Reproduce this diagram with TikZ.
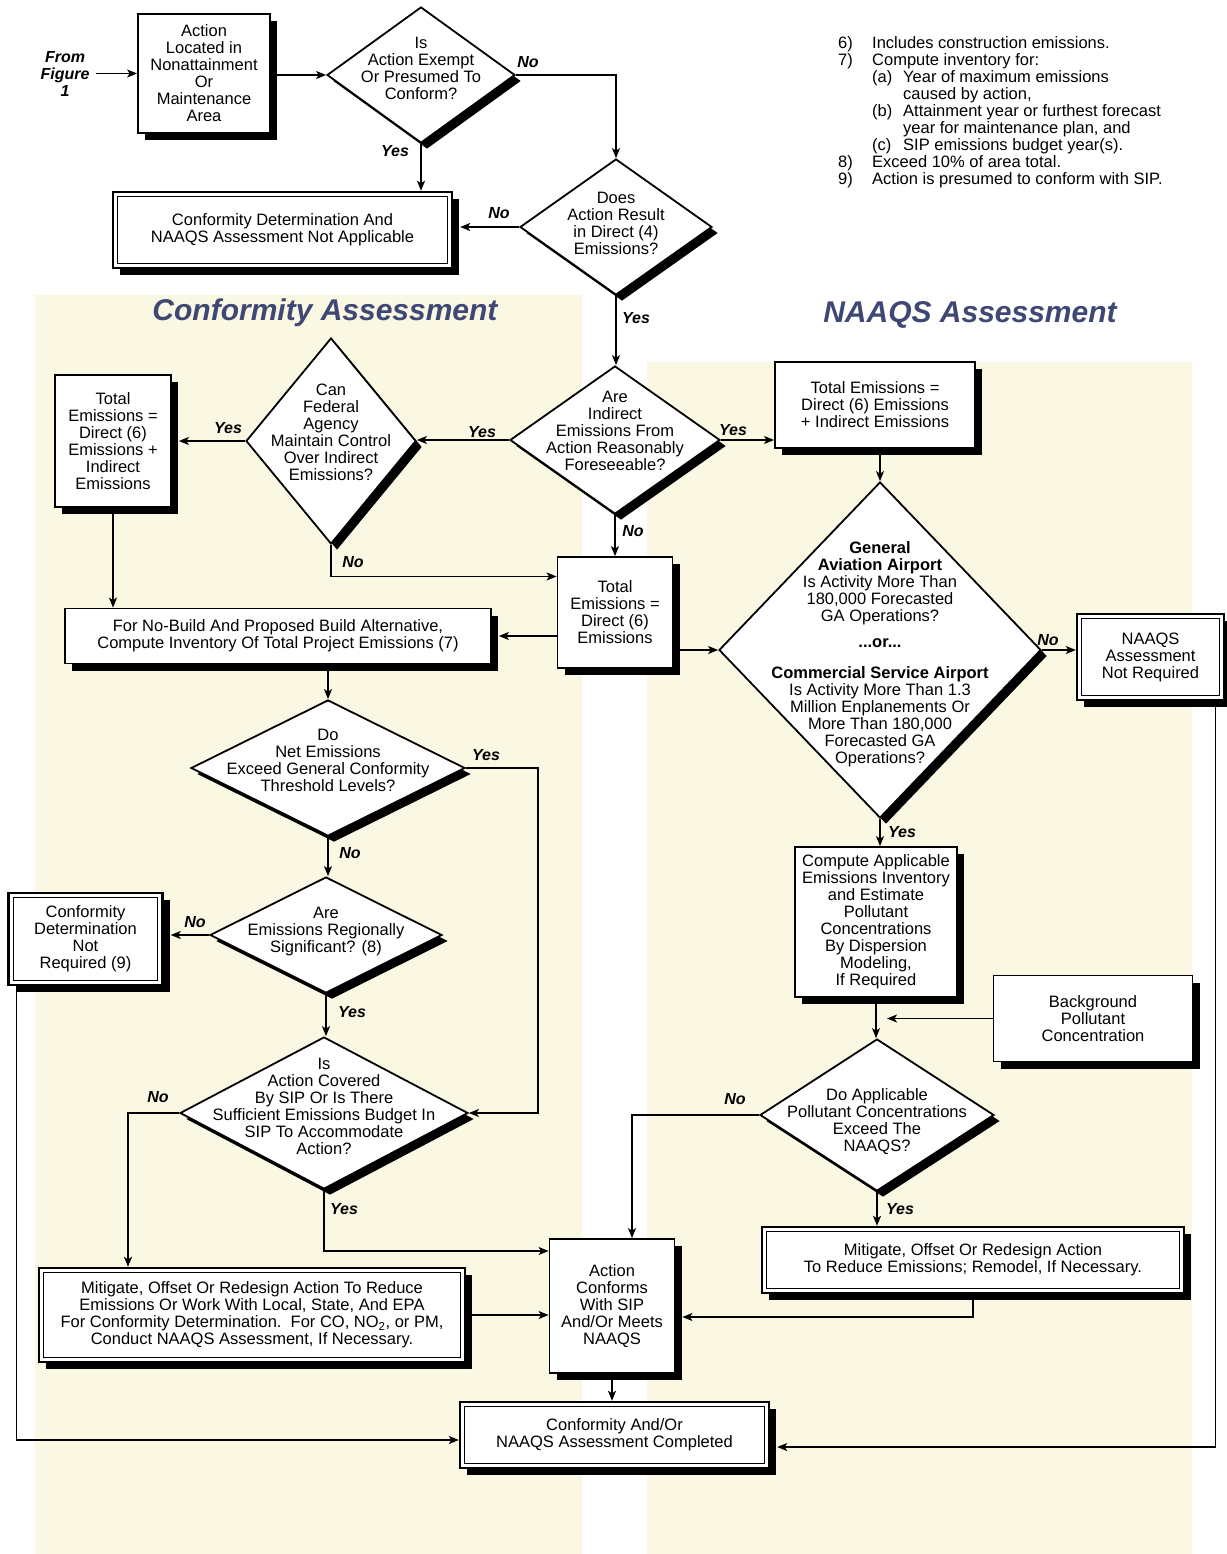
\documentclass[tikz,border=0pt]{standalone}
\usepackage{fontspec}
\setmainfont{Liberation Sans}
\usetikzlibrary{shapes.geometric,shadows,calc,arrows.meta}
\definecolor{panel}{RGB}{250,247,226}
\definecolor{ttl}{RGB}{63,72,116}
\newcommand\dtxt[2][0pt]{\makebox[0pt]{\smash{\raisebox{#1}{\begin{tabular}{@{}c@{}}#2\end{tabular}}}}}
\newcommand\innerframe[1]{\draw[line width=1.3pt] ([xshift=6pt,yshift=-6pt]#1.north west) rectangle ([xshift=-6pt,yshift=6pt]#1.south east);}
\begin{document}
\begin{tikzpicture}[x=1pt,y=-1pt,
  every node/.style={font=\fontsize{16.5}{17}\selectfont},
  box/.style={draw,line width=1.8pt,fill=white,align=center,inner sep=0pt,
    drop shadow={shadow xshift=7pt,shadow yshift=-7pt,fill=black,opacity=1}},
  dbox/.style={box,line width=2.4pt},
  dia/.style={diamond,draw,line width=1.8pt,fill=white,inner sep=0pt,
    drop shadow={shadow xshift=6pt,shadow yshift=-6pt,fill=black,opacity=1}},
  arr/.style={line width=1.4pt,-{Stealth[length=10pt,width=8pt,inset=2.5pt]}},
  toshadow/.style={shorten >=7pt},
  lbl/.style={font=\fontsize{16}{17}\selectfont\bfseries\itshape,inner sep=0pt},
  ttlsty/.style={font=\fontsize{30}{32}\selectfont\bfseries\itshape,text=ttl,inner sep=0pt}
]
\useasboundingbox (0,0) rectangle (1226,1554);
\fill[white] (0,0) rectangle (1226,1554);
% panels
\fill[panel] (35,295) rectangle (582,1554);
\fill[panel] (647,362) rectangle (1192,1554);
\node[ttlsty] (t1) at (325,313) {Conformity Assessment};
\node[ttlsty] (t2) at (970,315) {NAAQS Assessment};

% notes
\node[anchor=north west,inner sep=0pt] (notes) at (838,36) {\begin{tabular}{@{}p{34pt}@{}p{31pt}@{}l@{}}
6) & \multicolumn{2}{@{}l@{}}{Includes construction emissions.}\\
7) & \multicolumn{2}{@{}l@{}}{Compute inventory for:}\\
 & (a) & Year of maximum emissions\\
 & & caused by action,\\
 & (b) & Attainment year or furthest forecast\\
 & & year for maintenance plan, and\\
 & (c) & SIP emissions budget year(s).\\
8) & \multicolumn{2}{@{}l@{}}{Exceed 10\% of area total.}\\
9) & \multicolumn{2}{@{}l@{}}{Action is presumed to conform with SIP.}
\end{tabular}};

% top part
\node[lbl,align=center] (ff) at (65,73.5) {From\\Figure\\1};
\node[box,minimum width=132pt,minimum height=119pt] (A) at (204,73.5) {Action\\Located in\\Nonattainment\\Or\\Maintenance\\Area};
\node[dia,minimum width=188pt,minimum height=136pt] (D1) at (421,75) {\dtxt{Is\\Action Exempt\\Or Presumed To\\Conform?}};
\node[dbox,minimum width=339pt,minimum height=76pt] (B) at (282.5,230) {Conformity Determination And\\NAAQS Assessment Not Applicable};
\node[dia,minimum width=192pt,minimum height=136pt] (D2) at (616,227) {\dtxt[-2.7pt]{Does\\Action Result\\in Direct (4)\\Emissions?}};
\node[dia,minimum width=210pt,minimum height=148pt] (D3) at (615,440) {\dtxt[2.3pt]{Are\\Indirect\\Emissions From\\Action Reasonably\\Foreseeable?}};

% conformity column
\node[dia,minimum width=170pt,minimum height=206pt] (D4) at (331,441) {\dtxt[2.3pt]{Can\\Federal\\Agency\\Maintain Control\\Over Indirect\\Emissions?}};
\node[box,minimum width=116pt,minimum height=132pt] (TE1) at (113,441) {Total\\Emissions =\\Direct (6)\\Emissions +\\Indirect\\Emissions};
\node[box,minimum width=115pt,minimum height=111pt] (TD) at (615,612.5) {Total\\Emissions =\\Direct (6)\\Emissions};
\node[box,minimum width=426pt,minimum height=55pt] (F) at (278,636) {For No-Build And Proposed Build Alternative,\\Compute Inventory Of Total Project Emissions (7)};
\node[dia,minimum width=274pt,minimum height=136pt] (D5) at (328,768) {\dtxt[1.3pt]{Do\\Net Emissions\\Exceed General Conformity\\Threshold Levels?}};
\node[dia,minimum width=232pt,minimum height=116pt] (D6) at (326,935) {\dtxt[-1.7pt]{Are\\Emissions Regionally\\Significant? (8)}};
\node[dbox,minimum width=154pt,minimum height=92pt] (CDNR) at (85.5,939) {Conformity\\Determination\\Not\\Required (9)};
\node[dia,minimum width=288pt,minimum height=152pt] (D7) at (324,1113) {\dtxt{Is\\Action Covered\\By SIP Or Is There\\Sufficient Emissions Budget In\\SIP To Accommodate\\Action?}};
\node[dbox,minimum width=426pt,minimum height=94pt] (MIT1) at (252,1315) {Mitigate, Offset Or Redesign Action To Reduce\\Emissions Or Work With Local, State, And EPA\\For Conformity Determination.\ \ For CO, NO\textsubscript{2}, or PM,\\Conduct NAAQS Assessment, If Necessary.};
\node[box,minimum width=125pt,minimum height=134pt] (ACT) at (612,1306) {Action\\Conforms\\With SIP\\And/Or Meets\\NAAQS};
\node[dbox,minimum width=309pt,minimum height=66pt] (FIN) at (614.5,1435) {Conformity And/Or\\NAAQS Assessment Completed};

% NAAQS column
\node[box,minimum width=200pt,minimum height=86pt] (NT) at (875,405) {Total Emissions =\\Direct (6) Emissions\\+ Indirect Emissions};
\node[dia,minimum width=322pt,minimum height=336pt] (DB) at (880,650) {\dtxt[-9.2pt]{\textbf{General}\\\textbf{Aviation Airport}\\Is Activity More Than\\180,000 Forecasted\\GA Operations?\\[9pt]\textbf{...or...}\\[14pt]\textbf{Commercial Service Airport}\\Is Activity More Than 1.3\\Million Enplanements Or\\More Than 180,000\\Forecasted GA\\Operations?}};
\node[dbox,minimum width=147pt,minimum height=86pt] (NNR) at (1150.5,657) {NAAQS\\Assessment\\Not Required};
\node[box,minimum width=162pt,minimum height=150pt] (CA) at (876,922) {Compute Applicable\\Emissions Inventory\\and Estimate\\Pollutant\\Concentrations\\By Dispersion\\Modeling,\\If Required};
\node[box,minimum width=199pt,minimum height=86pt] (BG) at (1093,1018.5) {Background\\Pollutant\\Concentration};
\node[dia,minimum width=234pt,minimum height=152pt] (D8) at (877,1115) {\dtxt[-11.7pt]{Do Applicable\\Pollutant Concentrations\\Exceed The\\NAAQS?}};
\node[dbox,minimum width=422pt,minimum height=66pt] (MIT2) at (973,1260) {Mitigate, Offset Or Redesign Action\\To Reduce Emissions; Remodel, If Necessary.};

% inner frames of double boxes
\innerframe{B}
\innerframe{CDNR}
\innerframe{MIT1}
\innerframe{FIN}
\innerframe{NNR}
\innerframe{MIT2}

% connectors
\draw[arr,shorten <=6pt] (ff.east) -- (ff.east -| A.west);
\draw[arr] (A.east |- D1.west) -- (D1.west);
\draw[arr] (D1.east) -| (D2.north);
\draw[arr] (D1.south) -- (D1.south |- B.north);
\draw[arr,toshadow] (D2.west) -- (D2.west -| B.east);
\draw[arr] (D2.south) -- (D2.south |- D3.north);
\draw[arr] (D3.west) -- (D3.west -| D4.east);
\draw[arr] (D3.east) -- (D3.east -| NT.west);
\draw[arr] (D3.south) -- (D3.south |- TD.north);
\draw[arr,toshadow] (D4.west) -- (D4.west -| TE1.east);
\draw[arr] (D4.south) |- ([yshift=36pt]TD.west);
\draw[arr] (TE1.south) -- (TE1.south |- F.north);
\draw[arr,toshadow] (TD.west |- F.east) -- (F.east);
\draw[arr] (TD.east |- DB.west) -- (DB.west);
\draw[arr] (NT.south -| DB.north) -- (DB.north);
\draw[arr] (F.south -| D5.north) -- (D5.north);
\coordinate (yr) at (538,768);
\draw[arr] (D5.east) -- (yr) |- (D7.east);
\draw[arr] (D5.south) -- (D5.south |- D6.north);
\draw[arr,toshadow] (D6.west) -- (D6.west -| CDNR.east);
\draw[arr] (D6.south) -- (D6.south |- D7.north);
\draw[arr] (D7.west) -| ([xshift=-124pt]MIT1.north);
\draw[arr] (D7.south) |- ([yshift=55pt]ACT.west);
\draw[arr] (MIT1.east) -- (MIT1.east -| ACT.west);
\draw[arr,toshadow] (MIT2.south) |- ([yshift=-11pt]ACT.east);
\draw[arr] (ACT.south) -- (ACT.south |- FIN.north);
\draw[arr] ([xshift=9pt]CDNR.south west) |- ([yshift=-5pt]FIN.west);
\draw[arr,toshadow] ([xshift=-10pt]NNR.south east) |- ([yshift=-12pt]FIN.east);
\draw[arr] (DB.east) -- (DB.east -| NNR.west);
\draw[arr] (DB.south) -- (DB.south |- CA.north);
\draw[arr] (CA.south) -- (CA.south |- D8.north);
\draw[arr] (BG.west) -- ($(BG.west -| D8.north)+(10,0)$);
\draw[arr] (D8.west) -| ([xshift=20pt]ACT.north);
\draw[arr] (D8.south) -- (D8.south |- MIT2.north);

% labels
\node[lbl] (l1) at (528,62) {No};
\node[lbl] (l2) at (395,151) {Yes};
\node[lbl] (l3) at (499,213) {No};
\node[lbl] (l4) at (636,318) {Yes};
\node[lbl] (l5) at (482,432) {Yes};
\node[lbl] (l6) at (733,430) {Yes};
\node[lbl] (l7) at (633,531) {No};
\node[lbl] (l8) at (228,428) {Yes};
\node[lbl] (l9) at (353,562) {No};
\node[lbl] (l10) at (486,755) {Yes};
\node[lbl] (l11) at (350,853) {No};
\node[lbl] (l12) at (195,922) {No};
\node[lbl] (l13) at (352,1012) {Yes};
\node[lbl] (l14) at (158,1097) {No};
\node[lbl] (l15) at (344,1209) {Yes};
\node[lbl] (l16) at (1048,640) {No};
\node[lbl] (l17) at (902,832) {Yes};
\node[lbl] (l18) at (735,1099) {No};
\node[lbl] (l19) at (900,1209) {Yes};
\end{tikzpicture}
\end{document}
